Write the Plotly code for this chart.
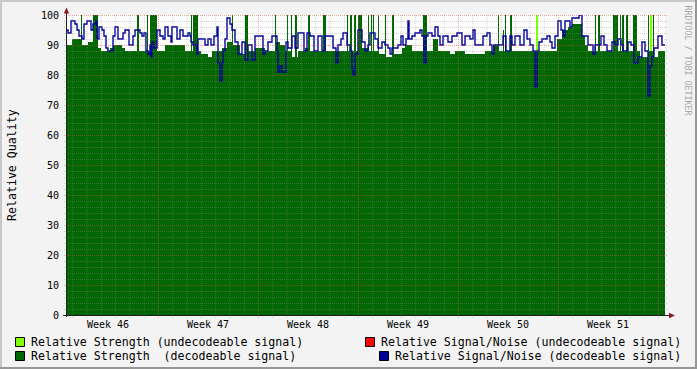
import plotly.graph_objects as go
from datetime import datetime, timedelta

# ---------------- data ----------------
STEP_S = 6048                      # RRD consolidation step (seconds per row)
T0 = datetime(2023, 11, 13, 15, 7, 12)
N_ROWS = 598

# Relative Strength (decodeable signal): step series (row where value starts, value)
strength_rows = [0, 5, 14, 15, 21, 26, 31, 34, 43, 46, 55, 58, 70, 72, 80, 81, 83, 90, 98, 118,
                 124, 125, 126, 131, 134, 141, 145, 155, 160, 165, 166, 173, 178, 181, 188, 198,
                 208, 209, 213, 218, 220, 221, 224, 225, 228, 230, 231, 238, 241, 243, 256, 259,
                 280, 281, 283, 285, 287, 289, 291, 295, 301, 302, 304, 305, 306, 307, 311, 312,
                 318, 319, 325, 327, 335, 338, 345, 356, 360, 366, 371, 383, 388, 398, 418, 426,
                 431, 432, 436, 437, 438, 439, 443, 445, 490, 495, 501, 505, 515, 518, 521, 528,
                 529, 531, 533, 546, 551, 553, 554, 555, 557, 559, 561, 566, 570, 573, 581, 582,
                 586, 587, 591, 598]
strength_vals = [90, 92, 100, 90, 91, 100, 89, 88, 89, 90, 89, 88, 100, 88, 100, 88, 100, 88, 90, 88,
                 100, 88, 100, 88, 87, 86, 88, 89, 91, 100, 90, 87, 100, 88, 89, 88,
                 100, 91, 90, 88, 100, 88, 100, 86, 100, 86, 88, 89, 100, 88, 100, 88,
                 100, 88, 100, 88, 100, 88, 100, 89, 100, 88, 100, 88, 100, 88, 100, 87,
                 100, 86, 100, 87, 89, 90, 88, 100, 88, 92, 88, 87, 88, 87, 88, 90,
                 100, 88, 95, 88, 100, 88, 100, 88, 92, 95, 96, 97, 93, 90, 88, 100,
                 88, 100, 88, 100, 88, 100, 88, 100, 88, 100, 88, 100, 88, 86, 100, 88,
                 100, 86, 88, 88]

# Relative Strength (undecodeable signal)
weak_rows = [0, 469, 471, 583, 585, 598]
weak_vals = [0, 100, 0, 100, 0, 0]

# Relative Signal/Noise (decodeable signal)
sn_rows = [0, 1, 4, 8, 10, 12, 15, 17, 20, 24, 26, 29, 30, 32, 35, 37, 39, 41, 46, 48, 51, 56, 58,
           62, 66, 68, 73, 75, 77, 79, 81, 83, 84, 85, 87, 90, 93, 96, 98, 101, 104, 105, 110,
           113, 116, 121, 123, 124, 126, 130, 131, 138, 141, 144, 147, 150, 151, 153, 155, 156,
           158, 160, 163, 165, 168, 171, 175, 178, 181, 185, 188, 196, 198, 201, 205, 210, 211,
           213, 215, 219, 221, 225, 228, 231, 237, 240, 243, 247, 251, 255, 258, 266, 269, 271,
           274, 276, 280, 283, 285, 286, 288, 291, 295, 298, 301, 303, 308, 311, 315, 318, 321,
           323, 325, 331, 334, 336, 339, 341, 342, 345, 348, 353, 355, 357, 359, 361, 365, 368,
           371, 373, 376, 381, 385, 390, 395, 398, 403, 406, 408, 416, 420, 423, 425, 427, 436,
           439, 443, 445, 448, 453, 457, 460, 463, 466, 468, 470, 472, 475, 480, 483, 485, 488,
           491, 494, 496, 498, 503, 505, 512, 515, 521, 526, 528, 534, 537, 540, 545, 548, 551,
           554, 556, 561, 564, 567, 571, 575, 578, 581, 583, 585, 587, 591, 595, 598]
sn_vals = [95, 94, 98, 97, 95, 93, 92, 97, 98, 95, 97, 98, 92, 96, 95, 93, 89, 88, 93, 96, 92, 94, 95,
           90, 93, 95, 94, 93, 94, 88, 87, 90, 86, 91, 89, 95, 93, 92, 96, 93, 91, 96, 92,
           95, 93, 94, 93, 91, 90, 87, 92, 90, 92, 90, 93, 96, 84, 78, 84, 88,
           92, 99, 97, 95, 91, 87, 91, 85, 90, 85, 93, 87, 88, 91, 93, 88, 81,
           83, 81, 91, 89, 93, 89, 94, 88, 94, 93, 88, 93, 88, 93, 89, 84, 90,
           92, 94, 90, 88, 82, 80, 87, 95, 91, 88, 90, 94, 92, 89, 91, 90, 89,
           87, 89, 90, 93, 90, 92, 98, 92, 93, 94, 95, 93, 84, 93, 94, 93, 96,
           93, 90, 93, 91, 93, 94, 90, 93, 92, 95, 90, 93, 94, 90, 87, 90, 93,
           88, 93, 90, 93, 90, 95, 92, 90, 88, 76, 88, 91, 92, 93, 91, 89, 93,
           98, 95, 93, 98, 96, 99, 100, 93, 90, 87, 90, 93, 90, 88, 91, 90, 92,
           90, 88, 91, 90, 84, 86, 91, 88, 73, 83, 86, 89, 93, 90, 90]

week_labels = ["Week 46", "Week 47", "Week 48", "Week 49", "Week 50", "Week 51"]
week_centers = [datetime(2023, 11, 16, 12), datetime(2023, 11, 23, 12), datetime(2023, 11, 30, 12),
                datetime(2023, 12, 7, 12), datetime(2023, 12, 14, 12), datetime(2023, 12, 21, 12)]
y_ticks = [0, 10, 20, 30, 40, 50, 60, 70, 80, 90, 100]

legend_items = [
    ("Relative Strength (undecodeable signal)", "#80ff00"),
    ("Relative Strength  (decodeable signal)", "#006600"),
    ("Relative Signal/Noise (undecodeable signal)", "#ff0000"),
    ("Relative Signal/Noise (decodeable signal)", "#000099"),
]

# ---------------- helpers ----------------
W, H = 697, 369
PL, PR, PT, PB = 67, 665, 15, 315


def t(r):
    return T0 + timedelta(seconds=r * STEP_S)


def xp(px):
    return (px - PL) / (PR - PL)


def yp(py):
    return (PB - py) / (PB - PT)


def time_px(dt):
    return PL + (dt - T0).total_seconds() / STEP_S * (PR - PL) / N_ROWS


FONT = "DejaVu Sans Mono"

fig = go.Figure()

fig.add_trace(go.Scatter(x=[t(r) for r in weak_rows], y=weak_vals, mode="lines",
                         line=dict(width=0, color="#80ff00", shape="hv"),
                         fill="tozeroy", fillcolor="#80ff00", hoverinfo="skip"))
fig.add_trace(go.Scatter(x=[t(r) for r in strength_rows], y=strength_vals, mode="lines",
                         line=dict(width=0, color="#006600", shape="hv"),
                         fill="tozeroy", fillcolor="#006600", hoverinfo="skip"))
fig.add_trace(go.Scatter(x=[t(r) for r in sn_rows], y=sn_vals, mode="lines",
                         line=dict(width=1.4, color="#000099", shape="hv"),
                         hoverinfo="skip"))

shapes = []
# frame shading
shapes += [
    dict(type="rect", xref="paper", yref="paper", x0=xp(0), x1=xp(W), y0=yp(0), y1=yp(2),
         fillcolor="#c8c8c8", line=dict(width=0), layer="above"),
    dict(type="rect", xref="paper", yref="paper", x0=xp(0), x1=xp(2), y0=yp(0), y1=yp(H),
         fillcolor="#c8c8c8", line=dict(width=0), layer="above"),
    dict(type="rect", xref="paper", yref="paper", x0=xp(0), x1=xp(W), y0=yp(H - 2), y1=yp(H),
         fillcolor="#969696", line=dict(width=0), layer="above"),
    dict(type="rect", xref="paper", yref="paper", x0=xp(W - 2), x1=xp(W), y0=yp(0), y1=yp(H),
         fillcolor="#969696", line=dict(width=0), layer="above"),
]

MINOR = "rgba(143,143,143,0.38)"
MAJOR = "rgba(222,79,79,0.5)"
DASH = "1px,1px"

# horizontal grid
for v in range(2, 101, 2):
    pyc = PB - 3 * v + 0.5
    col = MAJOR if v % 10 == 0 else MINOR
    shapes.append(dict(type="line", xref="paper", yref="paper", x0=xp(PL - 3), x1=xp(PR + 3),
                       y0=yp(pyc), y1=yp(pyc), line=dict(color=col, width=1, dash=DASH),
                       layer="above"))
# vertical grid (daily, weekly on Mondays)
day = datetime(2023, 11, 14)
end_t = t(N_ROWS)
while day < end_t:
    pxc = time_px(day) + 0.5
    col = MAJOR if day.weekday() == 0 else MINOR
    shapes.append(dict(type="line", xref="paper", yref="paper", x0=xp(pxc), x1=xp(pxc),
                       y0=yp(PB + 3), y1=yp(PT - 1), line=dict(color=col, width=1, dash=DASH),
                       layer="above"))
    day += timedelta(days=1)

# axes
AX = "#202020"
shapes.append(dict(type="line", xref="paper", yref="paper", x0=xp(66.5), x1=xp(66.5),
                   y0=yp(PB + 2), y1=yp(12), line=dict(color=AX, width=1), layer="above"))
shapes.append(dict(type="line", xref="paper", yref="paper", x0=xp(63), x1=xp(670),
                   y0=yp(315.5), y1=yp(315.5), line=dict(color=AX, width=1), layer="above"))
# arrows
ARROW = "#8b1a1a"
shapes.append(dict(type="path", xref="paper", yref="paper",
                   path=f"M {xp(63.8)},{yp(13.5)} L {xp(69.2)},{yp(13.5)} L {xp(66.5)},{yp(7.5)} Z",
                   fillcolor=ARROW, line=dict(width=0), layer="above"))
shapes.append(dict(type="path", xref="paper", yref="paper",
                   path=f"M {xp(669)},{yp(312.8)} L {xp(669)},{yp(318.2)} L {xp(675)},{yp(315.5)} Z",
                   fillcolor=ARROW, line=dict(width=0), layer="above"))

# legend squares
sq_pos = [(15, 337), (15, 351), (365, 337), (379, 351)]
for (sx, sy), (_, col) in zip(sq_pos, legend_items):
    shapes.append(dict(type="rect", xref="paper", yref="paper", x0=xp(sx + 0.5), x1=xp(sx + 9.5),
                       y0=yp(sy + 0.5), y1=yp(sy + 9.5), fillcolor=col,
                       line=dict(color="#000000", width=1), layer="above"))

annotations = []
# y tick labels
for v in y_ticks:
    annotations.append(dict(xref="paper", yref="y", x=xp(61), y=v, text=str(v), showarrow=False,
                            xanchor="right", yanchor="middle",
                            font=dict(family=FONT, size=10, color="#000000")))
# week labels
for lab, c in zip(week_labels, week_centers):
    annotations.append(dict(xref="x", yref="paper", x=c, y=yp(324.5), text=lab, showarrow=False,
                            xanchor="center", yanchor="middle",
                            font=dict(family=FONT, size=10, color="#000000")))
# y title
annotations.append(dict(xref="paper", yref="paper", x=xp(12), y=yp(165), text="Relative Quality",
                        showarrow=False, textangle=-90, xanchor="center", yanchor="middle",
                        font=dict(family=FONT, size=11.6, color="#000000")))
# credit
annotations.append(dict(xref="paper", yref="paper", x=xp(687.5), y=yp(60), text="RRDTOOL / TOBI OETIKER",
                        showarrow=False, textangle=90, xanchor="center", yanchor="middle",
                        font=dict(family=FONT, size=8.3, color="#a8a8a8")))
# legend texts
txt_pos = [(29, 341.5), (29, 355.5), (379, 341.5), (393, 355.5)]
for (tx, ty), (lab, _) in zip(txt_pos, legend_items):
    annotations.append(dict(xref="paper", yref="paper", x=xp(tx), y=yp(ty), text=lab.replace(" ", "&nbsp;"),
                            showarrow=False, xanchor="left", yanchor="middle",
                            font=dict(family=FONT, size=11.6, color="#000000")))

fig.update_layout(
    width=W, height=H, autosize=False,
    margin=dict(l=PL, r=W - PR, t=PT, b=H - PB, pad=0),
    paper_bgcolor="#f3f3f3", plot_bgcolor="#ffffff",
    showlegend=False,
    xaxis=dict(type="date", range=[t(0), t(N_ROWS)], showgrid=False, zeroline=False,
               showline=False, showticklabels=False, ticks="", fixedrange=True),
    yaxis=dict(range=[0, 100], showgrid=False, zeroline=False, showline=False,
               showticklabels=False, ticks="", fixedrange=True),
    shapes=shapes, annotations=annotations,
)

fig.write_html("out.html")
